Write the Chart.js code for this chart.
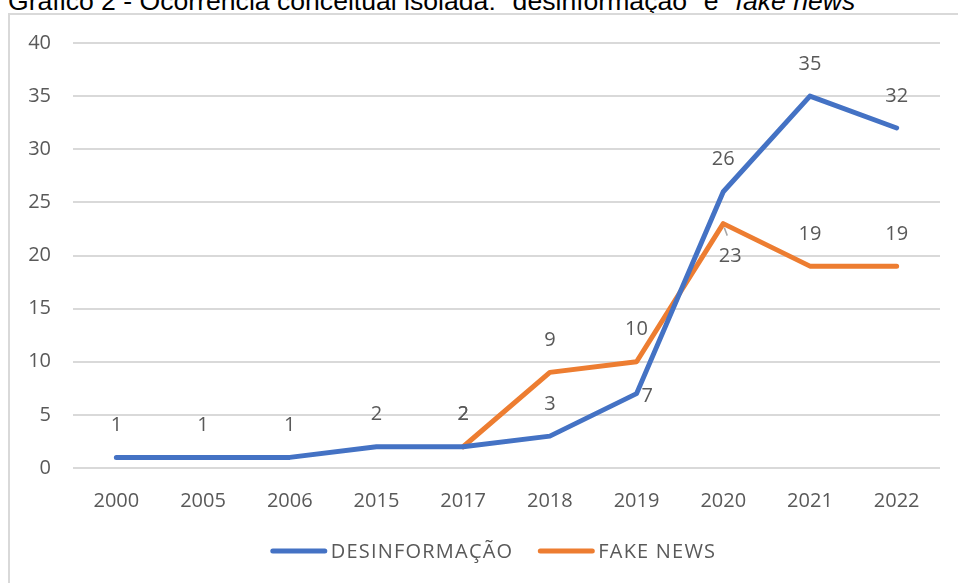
<!DOCTYPE html>
<html lang="pt">
<head>
    <meta charset="UTF-8">
    <title>Gráfico 2 - Ocorrência conceitual isolada</title>
    <script src="https://cdn.jsdelivr.net/npm/chart.js"></script>
    <style>
        body {
            margin: 0;
            background: #fff;
            width: 958px;
            height: 583px;
            overflow: hidden;
            position: relative;
            font-family: "Liberation Sans", Arial, sans-serif;
        }
        .caption {
            position: absolute;
            left: 8px;
            top: -12px;
            font-size: 26.6px;
            line-height: 26px;
            color: #000;
            white-space: nowrap;
        }
        .frame {
            position: absolute;
            left: 8px;
            top: 13px;
            width: 980px;
            height: 600px;
            border-top: 2px solid #d9d9d9;
            border-left: 2px solid #d9d9d9;
            box-sizing: border-box;
        }
        .chart-box {
            position: absolute;
            left: 9px;
            top: 14px;
            width: 949px;
            height: 569px;
        }
    </style>
</head>
<body>
    <div class="caption">Gráfico 2 - Ocorrência conceitual isolada: "desinformação" e "<i>fake news</i>"</div>
    <div class="frame"></div>
    <div class="chart-box">
        <canvas id="occurrenceChart"></canvas>
    </div>

    <script>
        // years and counts per term
        var years = ['2000', '2005', '2006', '2015', '2017', '2018', '2019', '2020', '2021', '2022'];
        var desinformacao = [1, 1, 1, 2, 2, 3, 7, 26, 35, 32];
        var fakeNews = [null, null, null, null, 2, 9, 10, 23, 19, 19];
        var yTicks = [0, 5, 10, 15, 20, 25, 30, 35, 40];

        // where each value label sits relative to its point
        var desinfLabelPos = ['top', 'top', 'top', 'top', 'top', 'top', 'right', 'top', 'top', 'top'];
        var fakeLabelPos = ['top', 'top', 'top', 'top', 'top', 'top', 'top', 'bottom', 'top', 'top'];

        var textGrey = '#595959';
        var fontFamily = '"Open Sans", Lato, sans-serif';

        // draws the numbers next to each point, like spreadsheet data labels
        var valueLabels = {
            id: 'valueLabels',
            afterDatasetsDraw: function(chart) {
                var ctx = chart.ctx;
                ctx.save();
                ctx.font = '20px ' + fontFamily;
                ctx.fillStyle = textGrey;
                chart.data.datasets.forEach(function(ds, i) {
                    var meta = chart.getDatasetMeta(i);
                    meta.data.forEach(function(pt, j) {
                        var v = ds.data[j];
                        if (v === null || v === undefined) return;
                        var pos = ds.labelPos[j];
                        var x = pt.x, y = pt.y;
                        ctx.textBaseline = 'middle';
                        ctx.textAlign = 'center';
                        if (pos === 'top') {
                            y -= 32;
                        } else if (pos === 'bottom') {
                            // small leader line back to the point
                            ctx.strokeStyle = '#a6a6a6';
                            ctx.lineWidth = 1.5;
                            ctx.beginPath();
                            ctx.moveTo(x + 1, y + 4);
                            ctx.lineTo(x + 4, y + 12);
                            ctx.stroke();
                            x += 7;
                            y += 33;
                        } else if (pos === 'right') {
                            ctx.textAlign = 'left';
                            x += 5;
                            y += 3;
                        }
                        ctx.fillText(String(v), x, y);
                    });
                });
                ctx.restore();
            }
        };

        // legend row under the axis: line swatch right against its text
        var lineLegend = {
            id: 'lineLegend',
            afterDraw: function(chart) {
                var ctx = chart.ctx;
                var swatch = 56, gap = 4, itemGap = 25;
                ctx.save();
                ctx.font = '20px ' + fontFamily;
                ctx.letterSpacing = '1.2px';
                var items = chart.data.datasets.map(function(ds) {
                    return { text: ds.label, color: ds.borderColor, w: ctx.measureText(ds.label).width };
                });
                var total = 0;
                items.forEach(function(it, i) {
                    total += swatch + gap + it.w + (i ? itemGap : 0);
                });
                var x = chart.width / 2 + 10 - total / 2;
                var y = chart.height - 32;
                ctx.textBaseline = 'middle';
                ctx.textAlign = 'left';
                items.forEach(function(it) {
                    ctx.strokeStyle = it.color;
                    ctx.lineWidth = 5;
                    ctx.lineCap = 'round';
                    ctx.beginPath();
                    ctx.moveTo(x + 2, y);
                    ctx.lineTo(x + swatch - 2, y);
                    ctx.stroke();
                    ctx.fillStyle = textGrey;
                    ctx.fillText(it.text, x + swatch + gap, y + 1);
                    x += swatch + gap + it.w + itemGap;
                });
                ctx.restore();
            }
        };

        var ctx = document.getElementById('occurrenceChart').getContext('2d');
        var occurrenceChart = new Chart(ctx, {
            type: 'line',
            data: {
                labels: years,
                datasets: [{
                    label: 'DESINFORMAÇÃO',
                    data: desinformacao,
                    labelPos: desinfLabelPos,
                    borderColor: '#4472C4',
                    backgroundColor: '#4472C4',
                    borderWidth: 5,
                    borderCapStyle: 'round',
                    borderJoinStyle: 'round',
                    pointRadius: 0,
                    tension: 0
                }, {
                    label: 'FAKE NEWS',
                    data: fakeNews,
                    labelPos: fakeLabelPos,
                    borderColor: '#ED7D31',
                    backgroundColor: '#ED7D31',
                    borderWidth: 5,
                    borderCapStyle: 'round',
                    borderJoinStyle: 'round',
                    pointRadius: 0,
                    tension: 0
                }]
            },
            options: {
                responsive: true,
                maintainAspectRatio: false,
                animation: false,
                layout: {
                    padding: { top: 0, right: 18, bottom: 49, left: 0 }
                },
                scales: {
                    x: {
                        offset: true,
                        grid: { display: false, drawTicks: false },
                        border: { display: false },
                        ticks: {
                            color: textGrey,
                            padding: 21,
                            font: { family: fontFamily, size: 20 }
                        }
                    },
                    y: {
                        min: 0,
                        max: 40,
                        afterFit: function(scale) {
                            scale.width = 64;
                            scale.paddingTop = 29;
                        },
                        afterBuildTicks: function(scale) {
                            scale.ticks = yTicks.map(function(v) { return { value: v }; });
                        },
                        grid: { color: '#d9d9d9', lineWidth: 2, drawTicks: false },
                        border: { display: false },
                        ticks: {
                            color: textGrey,
                            padding: 22,
                            font: { family: fontFamily, size: 20 }
                        }
                    }
                },
                plugins: {
                    legend: { display: false },
                    tooltip: { enabled: false }
                }
            },
            plugins: [valueLabels, lineLegend]
        });
    </script>
</body>
</html>
